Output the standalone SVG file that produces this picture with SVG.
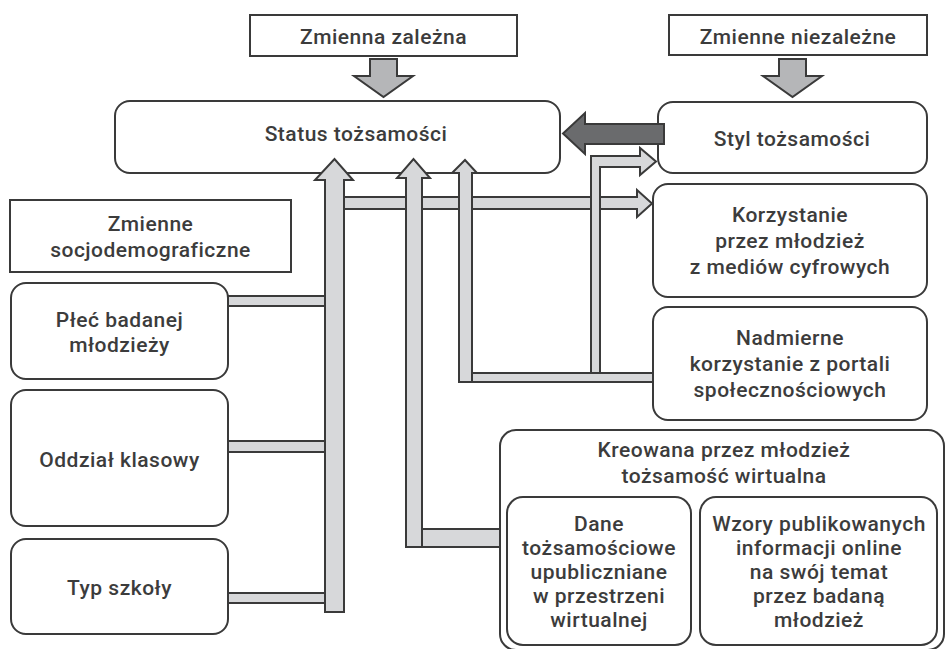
<svg xmlns="http://www.w3.org/2000/svg" width="946" height="649" viewBox="0 0 946 649">
<style>
.box{fill:#fff;stroke:#3a3a3a;stroke-width:2}
.t{font-family:Roboto,"Liberation Sans",sans-serif;font-size:21px;font-weight:500;letter-spacing:0.5px;fill:#3c3c3c;text-anchor:middle}
.lc{fill:#d7d8da;stroke:#3a3a3a;stroke-width:2;stroke-linejoin:miter}
.mc{fill:#b5b6b8;stroke:#3a3a3a;stroke-width:2}
.dc{fill:#6a6b6d;stroke:#3a3a3a;stroke-width:2}
</style>
<rect width="946" height="649" fill="#fff"/>

<g id="n-zalezna">
  <rect class="box" x="250" y="15" width="267" height="41"/>
  <text class="t" x="383.5" y="44">Zmienna zależna</text>
</g>
<g id="n-niezalezne">
  <rect class="box" x="669" y="15" width="258" height="40"/>
  <text class="t" x="798" y="44">Zmienne niezależne</text>
</g>
<g id="n-status">
  <rect class="box" x="115" y="101" width="445" height="72" rx="15"/>
  <text class="t" x="356" y="141">Status tożsamości</text>
</g>
<g id="n-styl">
  <rect class="box" x="658" y="102" width="269" height="71" rx="15"/>
  <text class="t" x="792" y="146">Styl tożsamości</text>
</g>
<g id="n-socjo">
  <rect class="box" x="10" y="200" width="281" height="72"/>
  <text class="t" x="150.5" y="231">Zmienne</text>
  <text class="t" x="150.5" y="257">socjodemograficzne</text>
</g>
<g id="n-plec">
  <rect class="box" x="11" y="283" width="217" height="96" rx="15"/>
  <text class="t" x="119.5" y="327">Płeć badanej</text>
  <text class="t" x="119.5" y="352">młodzieży</text>
</g>
<g id="n-oddzial">
  <rect class="box" x="11" y="390" width="217" height="136" rx="15"/>
  <text class="t" x="119.5" y="467">Oddział klasowy</text>
</g>
<g id="n-typ">
  <rect class="box" x="11" y="539" width="217" height="95" rx="15"/>
  <text class="t" x="119.5" y="595">Typ szkoły</text>
</g>
<g id="n-korzystanie">
  <rect class="box" x="653" y="184" width="274" height="113" rx="15"/>
  <text class="t" x="790" y="222">Korzystanie</text>
  <text class="t" x="790" y="248">przez młodzież</text>
  <text class="t" x="790" y="274">z mediów cyfrowych</text>
</g>
<g id="n-nadmierne">
  <rect class="box" x="653" y="307" width="274" height="113" rx="15"/>
  <text class="t" x="790" y="345">Nadmierne</text>
  <text class="t" x="790" y="371">korzystanie z portali</text>
  <text class="t" x="790" y="397">społecznościowych</text>
</g>
<g id="n-kreowana">
  <rect class="box" x="500" y="430" width="444" height="220" rx="16"/>
  <text class="t" x="724" y="457">Kreowana przez młodzież</text>
  <text class="t" x="724" y="483">tożsamość wirtualna</text>
</g>
<g id="n-dane">
  <rect class="box" x="507" y="497" width="184" height="148" rx="16"/>
  <text class="t" x="599" y="531">Dane</text>
  <text class="t" x="599" y="555">tożsamościowe</text>
  <text class="t" x="599" y="579">upubliczniane</text>
  <text class="t" x="599" y="603">w przestrzeni</text>
  <text class="t" x="599" y="627">wirtualnej</text>
</g>
<g id="n-wzory">
  <rect class="box" x="700" y="497" width="237" height="148" rx="16"/>
  <text class="t" x="819" y="531">Wzory publikowanych</text>
  <text class="t" x="819" y="555">informacji online</text>
  <text class="t" x="819" y="579">na swój temat</text>
  <text class="t" x="819" y="603">przez badaną</text>
  <text class="t" x="819" y="627">młodzież</text>
</g>

<g id="connectors">
  <polygon class="mc" points="370,59 397,59 397,76 413,76 383.5,97 354,76 370,76"/>
  <polygon class="mc" points="779,59 806,59 806,76 822,76 792.5,97 763,76 779,76"/>
  <polygon class="dc" points="664,124 585,124 585,113 563,133.5 585,154 585,144 664,144"/>
  <rect class="lc" x="228" y="296" width="98" height="10"/>
  <rect class="lc" x="228" y="441" width="98" height="11"/>
  <rect class="lc" x="228" y="593" width="98" height="10"/>
  <polygon class="lc" points="343,197 637,197 637,190 652,203.5 637,217 637,209 343,209"/>
  <rect class="lc" x="471" y="373" width="182" height="9"/>
  <rect class="lc" x="421" y="529" width="79" height="18"/>
  <polygon class="lc" points="591,373 591,156 640,156 640,148 656,161.5 640,175 640,167 600,167 600,373"/>
  <polygon class="lc" points="325,612 325,180 315,180 334.5,159 353,180 344,180 344,612"/>
  <polygon class="lc" points="406,547 406,178 397,178 413.5,159 430,178 422,178 422,547"/>
  <polygon class="lc" points="459,382 459,173 452,173 465,160 477,173 472,173 472,382"/>
</g>
</svg>
